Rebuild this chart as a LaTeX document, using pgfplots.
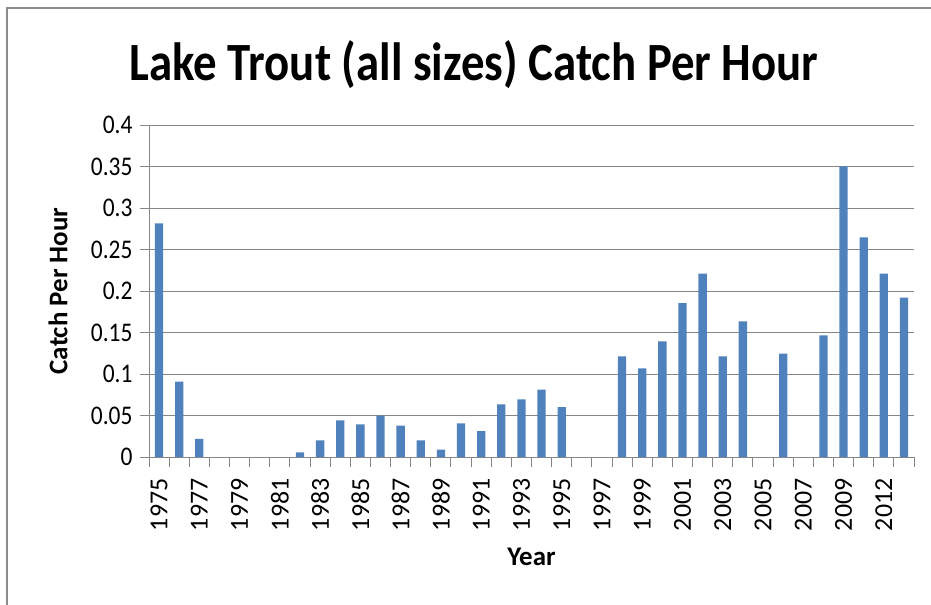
\documentclass[border=0pt]{standalone}
\usepackage{pgfplots}
\pgfplotsset{compat=1.18}
\usepackage{fontspec}
\setmainfont{Carlito}
\definecolor{barblue}{HTML}{4F81BD}
\definecolor{gridgray}{HTML}{868686}
\definecolor{framegray}{HTML}{8C8C8C}
\begin{document}
\begin{tikzpicture}
\useasboundingbox (0bp,0bp) rectangle (931bp,-605bp);
% outer chart frame (only left and top edges visible)
\draw[framegray,line width=2.2bp] (7bp,-605bp) -- (7bp,-8bp) -- (931bp,-8bp);
\node[font=\bfseries\fontsize{47}{50}\selectfont,anchor=base] at (474bp,-80bp) {\scalebox{1}[1.15]{Lake Trout (all sizes) Catch Per Hour}};
\begin{axis}[at={(149bp,-457bp)},anchor=south west,scale only axis,
  width=765bp,height=332bp,
  xmin=-0.5,xmax=37.5,ymin=0,ymax=0.4,
  axis lines=left,axis line style={-,gridgray,line width=1bp},
  ytick={0,0.05,...,0.4},
  yticklabels={0,0.05,0.1,0.15,0.2,0.25,0.3,0.35,0.4},
  ymajorgrids,grid style={gridgray,line width=1bp},
  xtick={0,2,...,36},
  xticklabels={1975,1977,1979,1981,1983,1985,1987,1989,1991,1993,1995,1997,1999,2001,2003,2005,2007,2009,2012},
  minor xtick={-0.5,0.5,...,37.5},
  major x tick style={draw=none},
  tick align=outside,
  major tick length=9bp,minor tick length=10bp,
  tick style={gridgray,line width=1bp},
  x tick label style={rotate=90,anchor=east,font=\fontsize{26}{28}\selectfont,xshift=-9bp},
  y tick label style={font=\fontsize{23.5}{26}\selectfont,xshift=-4bp,yscale=1.15},
  xlabel={Year},ylabel={Catch Per Hour},
  xlabel style={font=\bfseries\fontsize{27}{30}\selectfont,at={(axis description cs:0.5,0)},anchor=center,yshift=-100bp},
  ylabel style={font=\bfseries\fontsize{27}{30}\selectfont,at={(axis description cs:0,0.5)},anchor=center,yshift=91bp},
  ybar,bar width=8.3bp,
]
% index 0 = 1975 ... index 34 = 2009, 35 = 2010/11, 36 = 2012, 37 = 2013
\addplot[fill=barblue,draw=none] coordinates {
(0,0.2815) (1,0.0908) (2,0.0217) (3,0) (4,0) (5,0) (6,0) (7,0.0056)
(8,0.0201) (9,0.0442) (10,0.0394) (11,0.0498) (12,0.0378) (13,0.0201)
(14,0.0088) (15,0.0406) (16,0.0313) (17,0.0635) (18,0.0695) (19,0.0811)
(20,0.0602) (21,0) (22,0) (23,0.1213) (24,0.1068) (25,0.1394) (26,0.1855)
(27,0.2209) (28,0.1213) (29,0.1635) (30,0) (31,0.1245) (32,0) (33,0.1466)
(34,0.3502) (35,0.2647) (36,0.2209) (37,0.1920)};
\end{axis}
\end{tikzpicture}
\end{document}
